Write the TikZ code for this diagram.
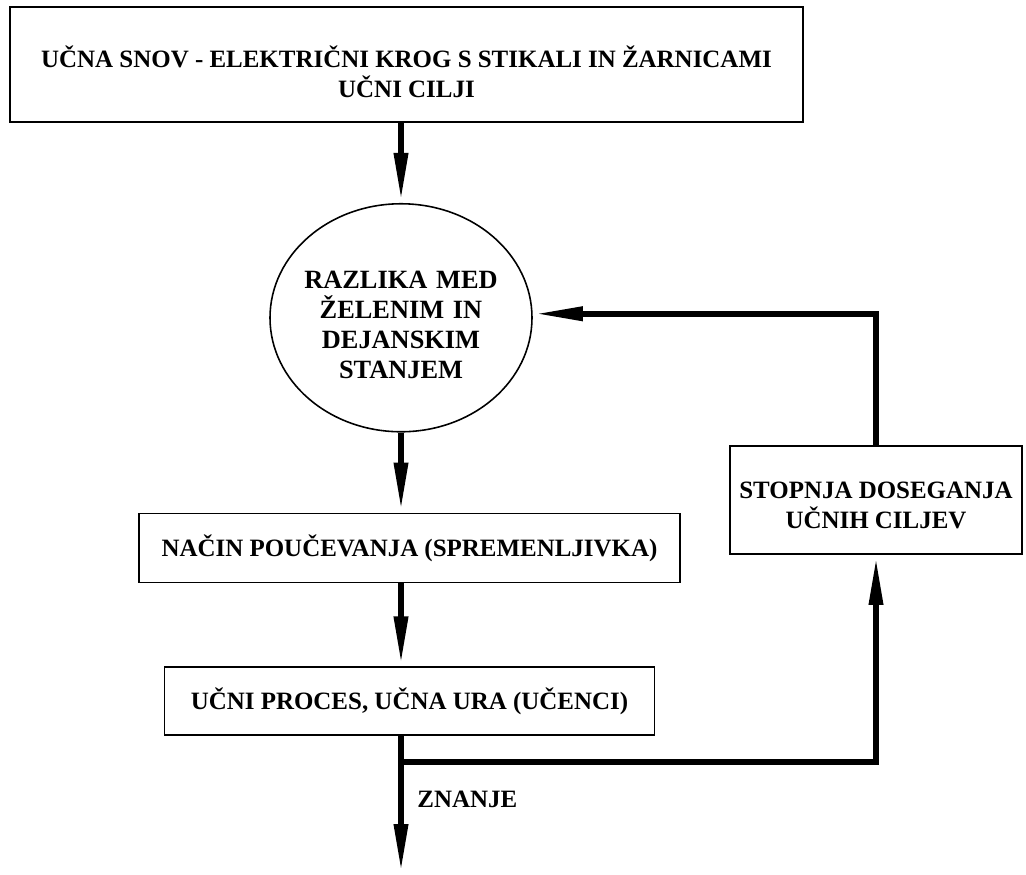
\documentclass[tikz,border=0pt]{standalone}
\usepackage{fontspec}
\setmainfont{Liberation Serif}
\usetikzlibrary{shapes.geometric, arrows.meta, positioning}

\begin{document}
\begin{tikzpicture}
    % Okvir slike: 1 px izvirnika = 0.02 cm
    \useasboundingbox (0,0) rectangle (20.52,-17.48);
    \tikzstyle{okvir} = [rectangle, draw=black, line width=1.1pt, align=center,
        inner sep=0pt, font={\bfseries\fontsize{14.2}{16.7}\selectfont}]
    \tikzstyle{elipsa} = [ellipse, draw=black, line width=0.9pt, text width=4.0cm,
        align=center, inner xsep=-0.2cm, inner ysep=0pt, minimum width=5.24cm,
        minimum height=4.56cm, font={\bfseries\fontsize{15}{17}\selectfont}]
    \tikzstyle{puscica} = [line width=0.13cm, -{Triangle[length=1cm, width=0.26cm]}]
    \tikzstyle{oznaka} = [inner sep=0pt, anchor=base west,
        font={\bfseries\fontsize{14.2}{16.7}\selectfont}]

    % \rule na začetku prve vrstice potisne besedilo malo navzdol, kot v izvirniku
    \node (snov) [okvir, minimum width=15.86cm, minimum height=2.3cm] at (8.13,-1.29)
        {\rule{0pt}{0.72cm}UČNA SNOV - ELEKTRIČNI KROG S STIKALI IN ŽARNICAMI \\ UČNI CILJI};
    \node (razlika) [elipsa, below=1.6cm of snov, xshift=-0.11cm]
        {\rule{0pt}{0.64cm}RAZLIKA MED \\ ŽELENIM IN \\ DEJANSKIM \\ STANJEM};
    \node (nacin) [okvir, minimum width=10.82cm, minimum height=1.38cm,
        below=1.6cm of razlika, xshift=0.17cm] {NAČIN POUČEVANJA (SPREMENLJIVKA)};
    \node (proces) [okvir, minimum width=9.8cm, minimum height=1.36cm,
        below=1.66cm of nacin] {UČNI PROCES, UČNA URA (UČENCI)};
    \node (stopnja) [okvir, minimum width=5.84cm, minimum height=2.16cm] at (17.52,-10.0)
        {\rule{0pt}{0.55cm}STOPNJA DOSEGANJA \\ UČNIH CILJEV};

    % Vse navpične puščice ležijo na osi elipse, ne na sredini okvirjev
    \coordinate (os) at (razlika.center);
    \coordinate (izhod) at (os |- 0,-17.48);
    \coordinate (razcep) at (os |- 0,-15.24);

    \draw [puscica] (os |- snov.south) -- (razlika.north);
    \draw [puscica] (razlika.south) -- (os |- nacin.north);
    \draw [puscica] (os |- nacin.south) -- (os |- proces.north);
    \draw [puscica] (os |- proces.south) -- (izhod);
    \draw [puscica] (razcep) -| (stopnja.south);
    \draw [puscica] (stopnja.north) |- ([yshift=0.08cm]razlika.east);

    \node (znanje) [oznaka] at ([xshift=0.32cm]os |- 0,-16.14) {ZNANJE};
\end{tikzpicture}
\end{document}
